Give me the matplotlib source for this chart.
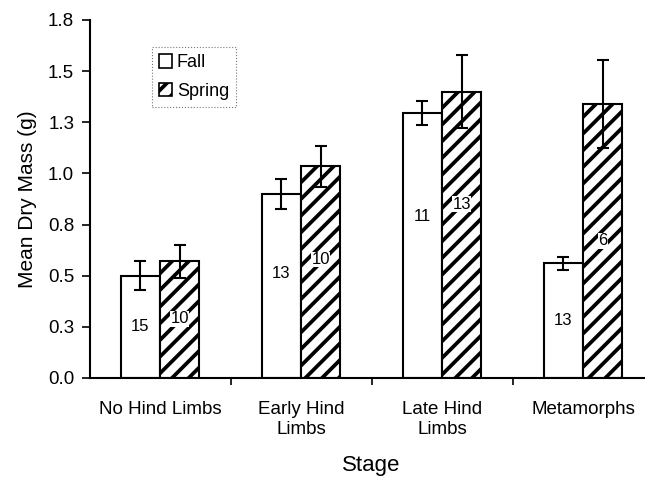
import matplotlib
matplotlib.use("Agg")
import matplotlib.pyplot as plt
import numpy as np

plt.rcParams['font.family'] = ['Liberation Sans', 'DejaVu Sans']
plt.rcParams['hatch.linewidth'] = 2.7

# data
stages = ["No Hind Limbs", "Early Hind\nLimbs", "Late Hind\nLimbs", "Metamorphs"]
fall_mean = [0.50, 0.90, 1.295, 0.56]
fall_err = [0.07, 0.073, 0.06, 0.03]
fall_n = [15, 13, 11, 13]
spring_mean = [0.57, 1.036, 1.40, 1.34]
spring_err = [0.08, 0.10, 0.18, 0.215]
spring_n = [10, 10, 13, 6]
fall_n_y = [0.25, 0.51, 0.79, 0.28]
spring_n_y = [0.29, 0.58, 0.85, 0.67]
yticks = [0.0, 0.25, 0.5, 0.75, 1.0, 1.25, 1.5, 1.75]
ytick_labels = ["0.0", "0.3", "0.5", "0.8", "1.0", "1.3", "1.5", "1.8"]

fig = plt.figure(figsize=(6.45, 4.83), dpi=100)
ax = fig.add_axes([89.5 / 645, 1 - 378 / 483, 564 / 645, 358 / 483])

x = np.arange(len(stages))
w = 0.28

ax.bar(x - w / 2, fall_mean, w, color='white', edgecolor='black', linewidth=1.5,
       label='Fall', zorder=2)
ax.bar(x + w / 2, spring_mean, w, color='white', edgecolor='black', linewidth=1.5,
       hatch='//', label='Spring', zorder=2)

ax.errorbar(x - w / 2, fall_mean, yerr=fall_err, fmt='none', ecolor='black',
            elinewidth=1.5, capsize=4, capthick=1.5, zorder=3)
ax.errorbar(x + w / 2, spring_mean, yerr=spring_err, fmt='none', ecolor='black',
            elinewidth=1.5, capsize=4, capthick=1.5, zorder=3)

# sample sizes inside bars
for i in range(len(stages)):
    ax.text(x[i] - w / 2, fall_n_y[i], str(fall_n[i]), ha='center', va='center',
            fontsize=12, zorder=4)
    ax.text(x[i] + w / 2, spring_n_y[i], str(spring_n[i]), ha='center', va='center',
            fontsize=12, zorder=4,
            bbox=dict(facecolor='white', edgecolor='none', pad=0.3))

ax.set_xlim(-0.5, 3.5)
ax.set_ylim(0, 1.75)
ax.set_yticks(yticks)
ax.set_yticklabels(ytick_labels, fontsize=13.5)
ax.set_xticks([0.5, 1.5, 2.5])
ax.set_xticklabels([])
ax.tick_params(axis='x', length=5, width=1.2, direction='out')
ax.tick_params(axis='y', length=6, width=1.2, direction='out', pad=5)
for i, s in enumerate(stages):
    ax.text(x[i], -0.11, s, ha='center', va='top', fontsize=13.5,
            linespacing=1.25, transform=ax.transData, clip_on=False)

ax.spines['top'].set_visible(False)
ax.spines['right'].set_visible(False)
ax.spines['left'].set_linewidth(1.5)
ax.spines['bottom'].set_linewidth(1.5)

ax.set_ylabel("Mean Dry Mass (g)", fontsize=15, labelpad=8)
fig.text((89.5 + 282) / 645, 1 - 465 / 483, "Stage", ha='center', va='center',
         fontsize=16)

leg = ax.legend(loc='upper left', bbox_to_anchor=(62 / 564, 1 - 27 / 358),
                fontsize=13, frameon=True, fancybox=False, handlelength=0.75,
                handleheight=0.75, handletextpad=0.25, borderpad=0.4,
                labelspacing=0.65, borderaxespad=0)
leg.get_frame().set_edgecolor('#555555')
leg.get_frame().set_linewidth(0.8)
leg.get_frame().set_linestyle(':')
for h in leg.legend_handles:
    h.set_linewidth(1.2)

fig.savefig("out.png", dpi=100)
